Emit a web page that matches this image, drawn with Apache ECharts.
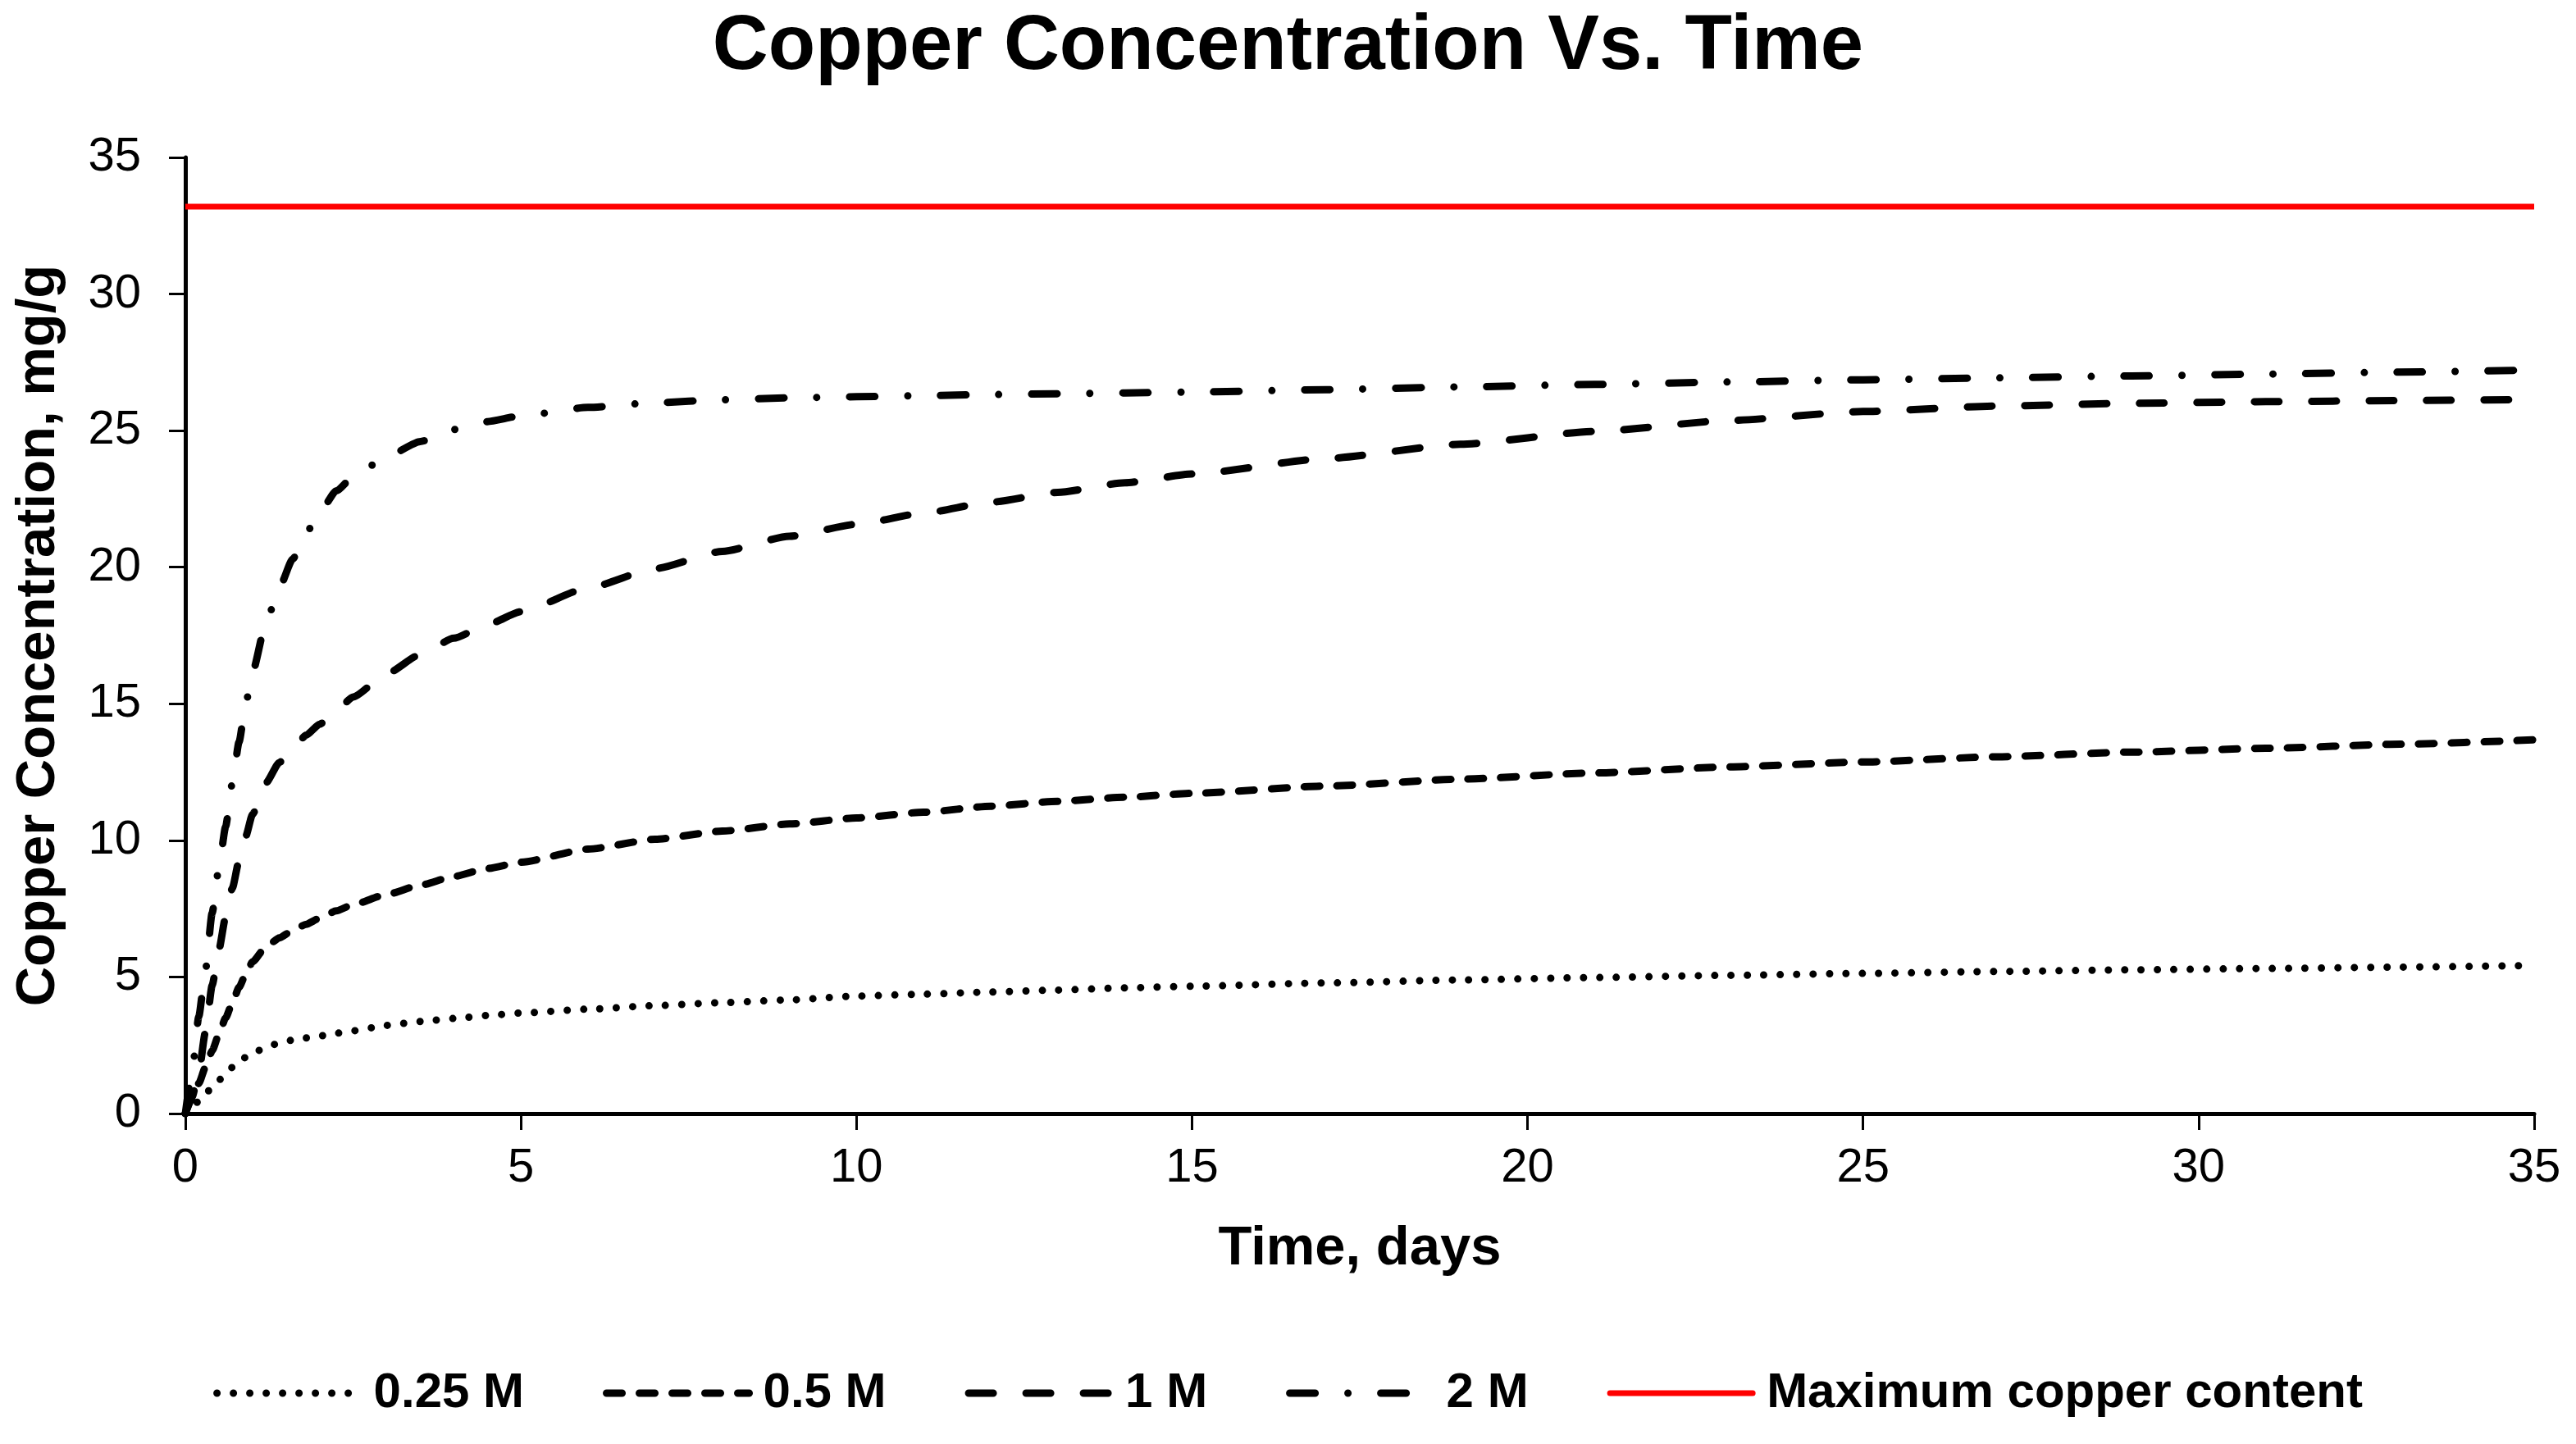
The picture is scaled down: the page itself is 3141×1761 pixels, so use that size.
<!DOCTYPE html>
<html>
<head>
<meta charset="utf-8">
<script src="https://cdn.jsdelivr.net/npm/echarts@6/dist/echarts.min.js"></script>
<style>
html,body{margin:0;padding:0;background:#fff;}
#chart{width:3141px;height:1761px;}
</style>
</head>
<body>
<div id="chart"></div>
<script>
// ---- data ----
const times = [0, 0.1, 0.2, 0.3, 0.4, 0.5, 0.6, 0.7, 0.8, 0.9, 1.0, 1.2, 1.4, 1.6, 1.8, 2.0, 2.25, 2.5, 3.0, 3.5, 4.0, 4.5, 5, 6, 7, 8, 9, 10, 11, 12, 13, 14, 15, 17, 19, 21, 23, 25, 27, 29, 31, 33, 35];
const conc025M = [0, 0.22, 0.46, 0.72, 0.97, 1.22, 1.45, 1.69, 1.88, 2.06, 2.2, 2.43, 2.58, 2.69, 2.77, 2.84, 2.94, 3.03, 3.23, 3.37, 3.48, 3.59, 3.68, 3.82, 3.95, 4.06, 4.16, 4.3, 4.37, 4.45, 4.52, 4.6, 4.66, 4.78, 4.89, 4.98, 5.06, 5.13, 5.2, 5.26, 5.31, 5.36, 5.42];
const conc05M = [0, 0.55, 1.1, 1.7, 2.3, 2.9, 3.5, 4.05, 4.62, 5.1, 5.55, 6.1, 6.43, 6.7, 6.93, 7.15, 7.42, 7.65, 8.02, 8.36, 8.68, 8.97, 9.2, 9.68, 10.04, 10.34, 10.6, 10.82, 11.03, 11.25, 11.43, 11.58, 11.72, 11.99, 12.24, 12.47, 12.69, 12.87, 13.06, 13.23, 13.37, 13.52, 13.68];
const conc1M = [0, 0.6, 1.5, 3.0, 4.7, 6.0, 7.2, 8.25, 9.25, 10.15, 10.95, 12.1, 12.85, 13.35, 13.85, 14.25, 14.75, 15.25, 16.1, 16.8, 17.4, 17.9, 18.37, 19.24, 19.95, 20.58, 21.13, 21.57, 21.98, 22.38, 22.74, 23.09, 23.41, 23.98, 24.5, 24.97, 25.37, 25.7, 25.9, 26.0, 26.06, 26.1, 26.14];
const conc2M = [0, 1.5, 3.55, 5.25, 7.35, 9.0, 10.5, 12.1, 13.6, 15.0, 16.15, 17.95, 19.25, 20.3, 21.25, 22.0, 22.8, 23.3, 24.05, 24.6, 25.04, 25.33, 25.54, 25.85, 26.02, 26.13, 26.2, 26.24, 26.28, 26.32, 26.35, 26.38, 26.41, 26.5, 26.6, 26.69, 26.78, 26.86, 26.93, 27.0, 27.07, 27.14, 27.22];
const maxCopperX = [0, 35];
const maxCopperY = [33.2, 33.2];
const seriesNames = ['0.25 M', '0.5 M', '1 M', '2 M', 'Maximum copper content'];
const axisTicks = [0, 5, 10, 15, 20, 25, 30, 35];

const FONT = "'Liberation Sans', Arial, Helvetica, sans-serif";
const pair = (xs, ys) => xs.map((x, i) => [x, ys[i]]);

function lineSeries(name, ys, dash) {
  return {
    name: name,
    type: 'line',
    data: pair(times, ys),
    showSymbol: false,
    symbol: 'none',
    smooth: 0.2,
    smoothMonotone: 'x',
    lineStyle: { color: '#000', width: 9, type: dash, cap: 'round', join: 'round' },
    itemStyle: { color: '#000' },
    z: 3
  };
}

const chart = echarts.init(document.getElementById('chart'));
chart.setOption({
  animation: false,
  backgroundColor: '#fff',
  title: {
    text: 'Copper Concentration Vs. Time',
    left: 'center',
    top: 6,
    textStyle: { fontFamily: FONT, fontWeight: 'bold', fontSize: 94, color: '#000' }
  },
  grid: { left: 226, right: 51, top: 192, bottom: 403, containLabel: false },
  xAxis: {
    type: 'value',
    min: axisTicks[0], max: axisTicks[axisTicks.length - 1], interval: 5,
    name: 'Time, days',
    nameLocation: 'middle',
    nameGap: 132,
    nameTextStyle: { fontFamily: FONT, fontWeight: 'bold', fontSize: 67, color: '#000', verticalAlign: 'top' },
    axisLine: { lineStyle: { color: '#000', width: 5 } },
    axisTick: { show: true, inside: false, length: 20, lineStyle: { color: '#000', width: 3 } },
    axisLabel: { fontFamily: FONT, fontSize: 58, color: '#000', margin: 38 },
    splitLine: { show: false }
  },
  yAxis: {
    type: 'value',
    min: axisTicks[0], max: axisTicks[axisTicks.length - 1], interval: 5,
    name: 'Copper Concentration, mg/g',
    nameLocation: 'middle',
    nameGap: 145,
    nameRotate: 90,
    nameTextStyle: { fontFamily: FONT, fontWeight: 'bold', fontSize: 67, color: '#000' },
    axisLine: { show: true, lineStyle: { color: '#000', width: 5 } },
    axisTick: { show: true, inside: false, length: 20, lineStyle: { color: '#000', width: 3 } },
    axisLabel: { fontFamily: FONT, fontSize: 58, color: '#000', margin: 54 },
    splitLine: { show: false }
  },
  legend: {
    data: seriesNames,
    left: 'center',
    top: 1664,
    itemWidth: 174,
    itemHeight: 20,
    itemGap: 96,
    itemStyle: { opacity: 0 },
    lineStyle: { width: 'inherit', type: 'inherit', cap: 'round' },
    textStyle: { fontFamily: FONT, fontWeight: 'bold', fontSize: 60, color: '#000', padding: [0, 0, 0, 12] }
  },
  series: [
    lineSeries(seriesNames[0], conc025M, [0, 20]),
    lineSeries(seriesNames[1], conc05M, [19, 21]),
    lineSeries(seriesNames[2], conc1M, [30, 40]),
    lineSeries(seriesNames[3], conc2M, [31, 40, 0, 40]),
    {
      name: seriesNames[4],
      type: 'line',
      data: pair(maxCopperX, maxCopperY),
      showSymbol: false,
      symbol: 'none',
      lineStyle: { color: '#ff0000', width: 7, type: 'solid' },
      itemStyle: { color: '#ff0000' },
      z: 2
    }
  ]
});
</script>
</body>
</html>
